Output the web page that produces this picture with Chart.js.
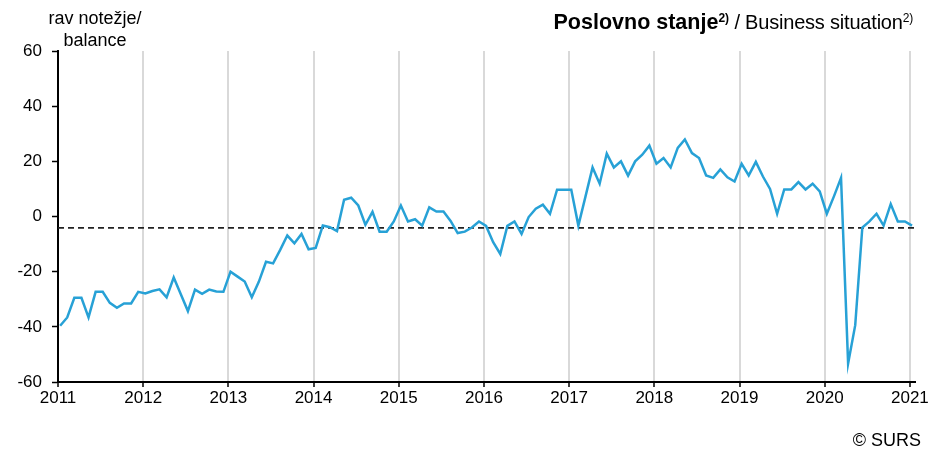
<!DOCTYPE html>
<html>
<head>
<meta charset="utf-8">
<script src="https://cdn.jsdelivr.net/npm/chart.js@4.4.0/dist/chart.umd.min.js"></script>
<style>
  body { margin: 0; background: #fff; }
  #wrap { position: relative; width: 935px; height: 451px; font-family: "Liberation Sans", Arial, sans-serif; color: #000; }
  #wrap canvas { position: absolute; left: 0; top: 0; }
  .txt { position: absolute; white-space: nowrap; font-size: 18px; }
  sup { font-size: 12px; vertical-align: 7px; line-height: 0; }
</style>
</head>
<body>
<div id="wrap">
  <canvas id="graphique" width="935" height="451"></canvas>
  <div class="txt" style="left:35px; top:7px; width:120px; text-align:center; line-height:22px;">rav notežje/<br>balance</div>
  <div class="txt" style="right:22px; top:10px; font-size:20px; letter-spacing:-0.2px;"><b style="font-size:21.5px; letter-spacing:0;">Poslovno stanje<sup>2)</sup></b> / Business situation<sup>2)</sup></div>
  <div class="txt" style="right:14px; top:430px;">© SURS</div>
</div>
<script>
// mesecni podatki, januar 2011 - januar 2021
var startYear = 2011;
var years = [2011, 2012, 2013, 2014, 2015, 2016, 2017, 2018, 2019, 2020, 2021];
var yTicks = [-60, -40, -20, 0, 20, 40, 60];
var values = [
  -39.6, -36.6, -29.5, -29.5, -36.6, -27.3, -27.3, -31.3, -33.1, -31.5, -31.5, -27.3,
  -27.9, -27.0, -26.4, -29.3, -22.1, -28.2, -34.3, -26.5, -28.0, -26.5, -27.2, -27.3,
  -20.0, -21.8, -23.6, -29.3, -23.6, -16.4, -17.0, -12.1, -6.9, -9.7, -6.3, -11.9,
  -11.4, -3.3, -3.9, -5.3, 6.1, 6.8, 4.0, -3.0, 1.7, -5.5, -5.5, -1.8,
  4.0, -1.8, -1.0, -3.3, 3.3, 1.8, 1.8, -1.6, -6.0, -5.5, -4.0, -1.8,
  -3.4, -9.3, -13.6, -3.4, -1.8, -6.3, -0.2, 2.8, 4.3, 1.0, 9.7, 9.7,
  9.7, -3.3, 7.2, 17.8, 11.9, 22.8, 17.8, 20.0, 14.8, 20.0, 22.4, 25.7,
  19.1, 21.2, 17.8, 24.9, 27.9, 23.0, 21.2, 14.9, 14.0, 17.1, 14.2, 12.7,
  19.1, 14.9, 19.8, 14.5, 10.0, 1.0, 9.8, 9.8, 12.5, 9.8, 11.9, 9.1,
  1.0, 7.3, 14.0, -53.3, -39.4, -4.0, -1.8, 1.0, -3.3, 4.5, -1.8, -1.8,
  -3.3
];
var meanValue = -4.1; // dolgoletno povprecje
var xMax = 2021.06;

var points = [];
for (var i = 0; i < values.length; i++) {
  points.push({ x: startYear + (i + 0.3) / 12, y: values[i] });
}

new Chart(document.getElementById("graphique"), {
  type: "line",
  data: {
    datasets: [
      {
        label: "Poslovno stanje",
        data: points,
        borderColor: "#27a1d6",
        borderWidth: 2.5,
        pointRadius: 0,
        tension: 0,
        order: 1
      },
      {
        label: "povprecje",
        data: [{ x: startYear, y: meanValue }, { x: xMax, y: meanValue }],
        borderColor: "#222",
        borderWidth: 1.8,
        borderDash: [6, 4],
        pointRadius: 0,
        order: 2
      }
    ]
  },
  options: {
    responsive: false,
    devicePixelRatio: 1,
    animation: false,
    layout: { padding: { top: 51, right: 20, left: 0, bottom: 0 } },
    plugins: { legend: { display: false }, tooltip: { enabled: false } },
    scales: {
      x: {
        type: "linear",
        min: startYear,
        max: xMax,
        afterBuildTicks: function (scale) {
          scale.ticks = years.map(function (v) { return { value: v }; });
        },
        afterFit: function (scale) { scale.height = 69; },
        grid: {
          color: function (ctx) { return ctx.tick && ctx.tick.value === startYear ? "rgba(0,0,0,0)" : "#d9d9d9"; },
          lineWidth: 2,
          tickColor: "#000",
          tickLength: 5,
          tickWidth: 1.5
        },
        border: { color: "#000", width: 2 },
        ticks: {
          color: "#000",
          font: { family: "Liberation Sans", size: 17 },
          padding: 1,
          maxRotation: 0,
          autoSkip: false,
          callback: function (v) { return String(v); }
        }
      },
      y: {
        min: -60,
        max: 60,
        afterBuildTicks: function (scale) {
          scale.ticks = yTicks.map(function (v) { return { value: v }; });
        },
        afterFit: function (scale) { scale.width = 58; },
        grid: {
          drawOnChartArea: false,
          tickColor: "#000",
          tickLength: 6,
          tickWidth: 1.5
        },
        border: { color: "#000", width: 2 },
        ticks: {
          color: "#000",
          font: { family: "Liberation Sans", size: 17 },
          padding: 10
        }
      }
    }
  }
});
</script>
</body>
</html>
